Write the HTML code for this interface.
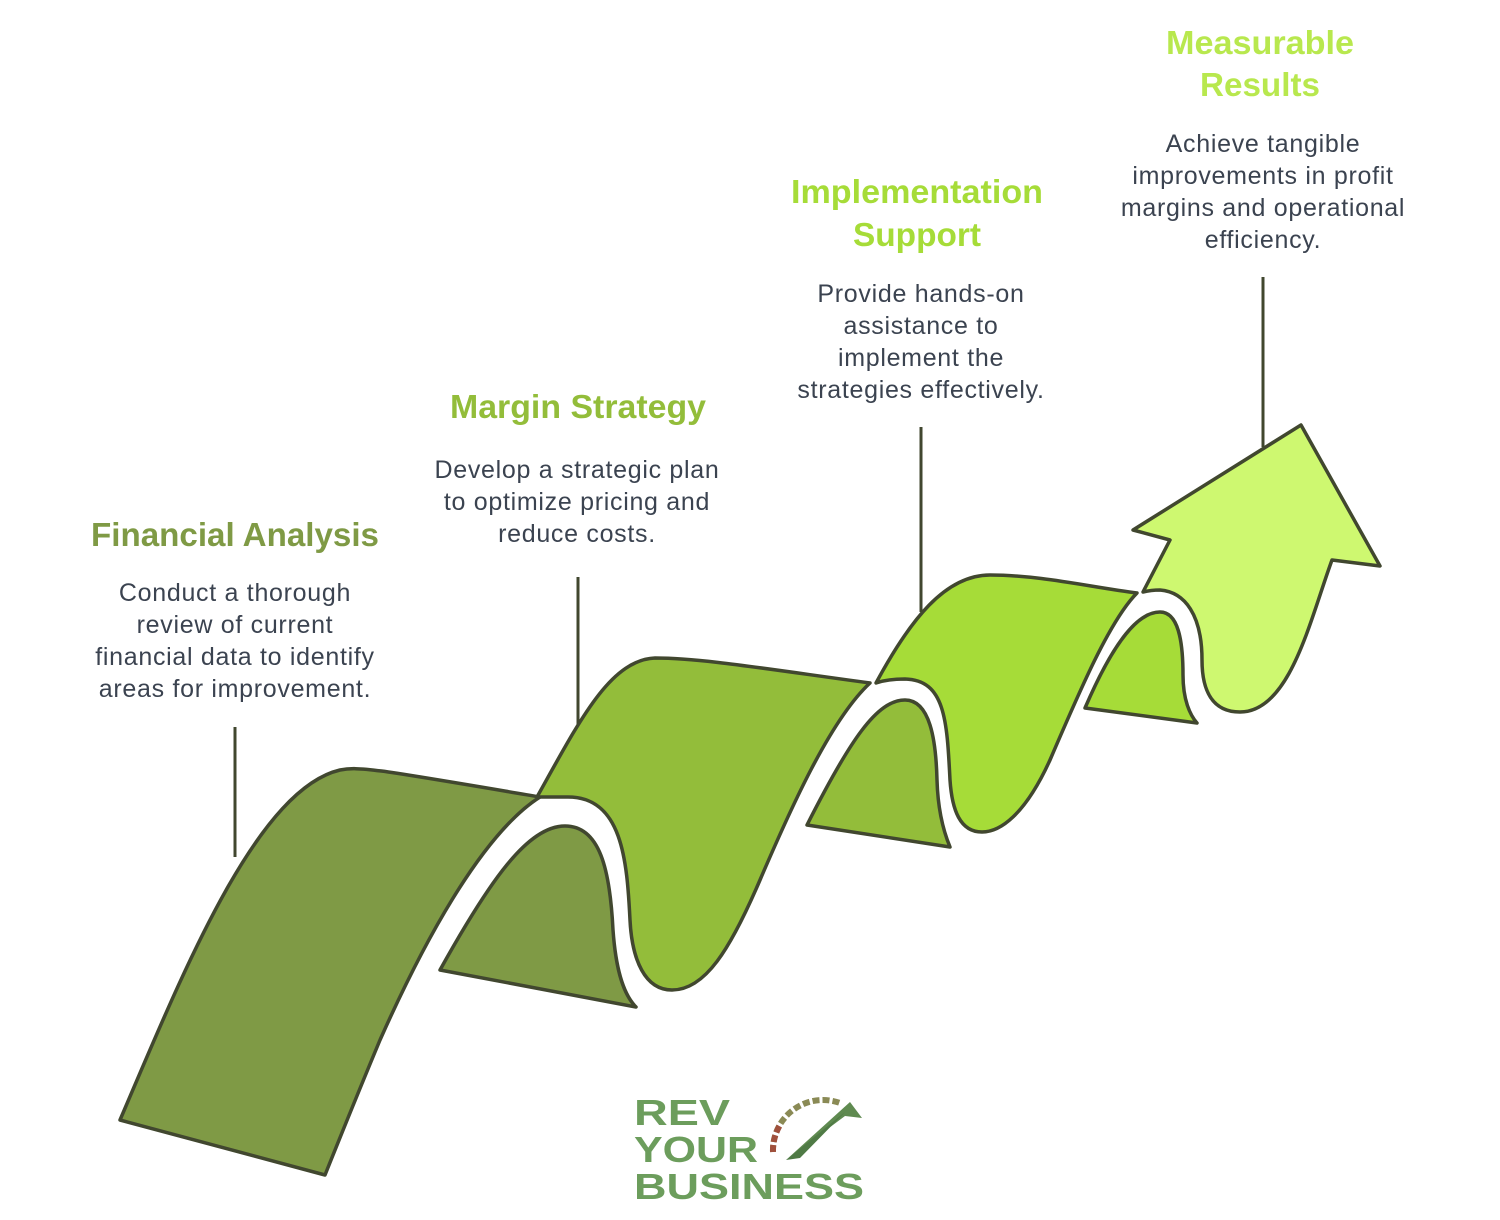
<!DOCTYPE html>
<html><head><meta charset="utf-8"><style>
html,body{margin:0;padding:0;background:#fff;}
svg{display:block;}
.h{font-family:"Liberation Sans",sans-serif;font-weight:bold;font-size:33px;text-anchor:middle;}
.b{font-family:"Liberation Sans",sans-serif;font-size:25px;letter-spacing:0.7px;text-anchor:middle;fill:#3b4350;}
.s{stroke:#41472f;stroke-width:3.5;stroke-linejoin:round;}
</style></head><body>
<svg width="1500" height="1220" viewBox="0 0 1500 1220" xmlns="http://www.w3.org/2000/svg">
<g stroke="#41472f" stroke-width="3">
<line x1="235" y1="727" x2="235" y2="857"/>
<line x1="578" y1="577" x2="578" y2="730"/>
<line x1="921" y1="427" x2="921" y2="612"/>
<line x1="1263" y1="277" x2="1263" y2="447"/>
</g>
<path class="s" fill="#7f9a45" d="M120,1120 C180,980 255,790 340,770 C360,766 380,770 540,797 C480,835 420,950 380,1040 C355,1100 335,1150 325,1175 Z"/>
<path class="s" fill="#7f9a45" d="M440,970 C490,880 528,826 565,826 C600,826 610,870 613,930 C616,972 624,995 636,1007 Z"/>
<path class="s" fill="#93bd3a" d="M537,797 C580,720 610,660 655,658 C700,658 760,668 870,683 C830,720 790,810 760,880 C730,950 705,990 672,990 C645,990 632,960 630,920 C627,860 622,797 568,797 Z"/>
<path class="s" fill="#93bd3a" d="M807,825 C850,740 877,700 905,700 C930,700 936,740 937,780 C938,815 945,835 950,847 Z"/>
<path class="s" fill="#a6dc38" d="M876,683 C910,620 945,575 990,575 C1040,575 1090,587 1137,593 C1110,620 1080,690 1050,760 C1025,815 1000,832 982,832 C960,832 952,810 950,780 C947,720 945,680 905,679 C890,679 882,681 876,683 Z"/>
<path class="s" fill="#a6dc38" d="M1085,708 C1110,650 1135,612 1160,612 C1178,612 1183,640 1183,675 C1183,700 1190,715 1197,723 Z"/>
<path class="s" fill="#cef870" d="M1143,592 L1170,540 L1133,530 L1301,425 L1380,566 L1332,560 C1310,620 1290,712 1240,712 C1212,712 1202,690 1202,660 C1202,615 1185,592 1160,590 C1152,590 1147,591 1143,592 Z"/>
<text class="h" x="235" y="546" fill="#7f9a45" textLength="288" lengthAdjust="spacingAndGlyphs">Financial Analysis</text>
<text class="b" x="235" y="601">Conduct a thorough</text>
<text class="b" x="235" y="633">review of current</text>
<text class="b" x="235" y="665">financial data to identify</text>
<text class="b" x="235" y="697">areas for improvement.</text>

<text class="h" x="578" y="418" fill="#93bd3a" textLength="256" lengthAdjust="spacingAndGlyphs">Margin Strategy</text>
<text class="b" x="577" y="478" fill="#3c4636">Develop a strategic plan</text>
<text class="b" x="577" y="510" fill="#3c4636">to optimize pricing and</text>
<text class="b" x="577" y="542" fill="#3c4636">reduce costs.</text>

<text class="h" x="917" y="203" fill="#a6dc38" textLength="252" lengthAdjust="spacingAndGlyphs">Implementation</text>
<text class="h" x="917" y="246" fill="#a6dc38" textLength="128" lengthAdjust="spacingAndGlyphs">Support</text>
<text class="b" x="921" y="302" fill="#3c4034">Provide hands-on</text>
<text class="b" x="921" y="334" fill="#3c4034">assistance to</text>
<text class="b" x="921" y="366" fill="#3c4034">implement the</text>
<text class="b" x="921" y="398" fill="#3c4034">strategies effectively.</text>

<text class="h" x="1260" y="54" fill="#b8e84e" textLength="188" lengthAdjust="spacingAndGlyphs">Measurable</text>
<text class="h" x="1260" y="96" fill="#b8e84e" textLength="120" lengthAdjust="spacingAndGlyphs">Results</text>
<text class="b" x="1263" y="152" fill="#3c4034">Achieve tangible</text>
<text class="b" x="1263" y="184" fill="#3c4034">improvements in profit</text>
<text class="b" x="1263" y="216" fill="#3c4034">margins and operational</text>
<text class="b" x="1263" y="248" fill="#3c4034">efficiency.</text>

<g font-family="'Liberation Sans',sans-serif" font-weight="bold" fill="#6c9d5c">
<text x="634" y="1125" font-size="36" textLength="96" lengthAdjust="spacingAndGlyphs">REV</text>
<text x="634" y="1162" font-size="36" textLength="124" lengthAdjust="spacingAndGlyphs">YOUR</text>
<text x="634" y="1199" font-size="36" textLength="230" lengthAdjust="spacingAndGlyphs">BUSINESS</text>
</g>
<path d="M773,1152 A50,50 0 0 1 840,1103" fill="none" stroke="#8a8a55" stroke-width="6" stroke-dasharray="7,3"/>
<path d="M773,1152 A50,50 0 0 1 780,1125" fill="none" stroke="#a0503c" stroke-width="6" stroke-dasharray="7,3"/>
<path d="M786,1160 L850,1102 L862,1118 L845,1116 Z" fill="#5f8a50"/>
<path d="M786,1160 L845,1112 L800,1158 Z" fill="#4f7a45"/>
</svg>
</body></html>
